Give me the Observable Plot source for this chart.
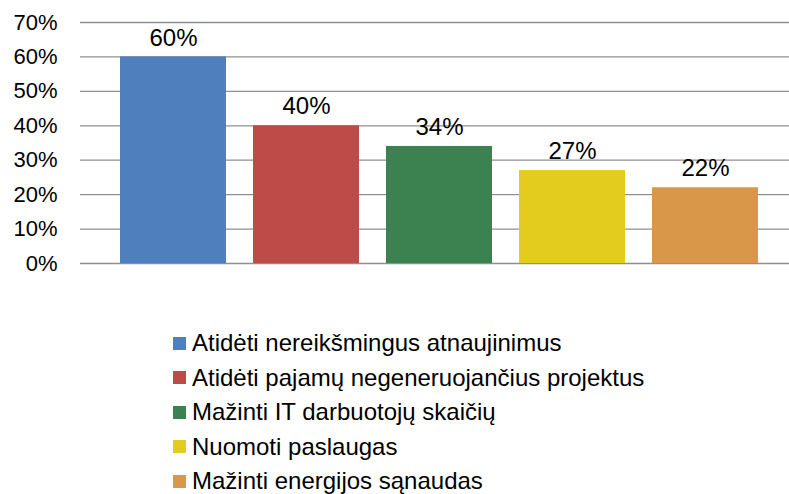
<!DOCTYPE html>
<html>
<head>
<meta charset="utf-8">
<script src="https://cdn.jsdelivr.net/npm/d3@7"></script>
<script src="https://cdn.jsdelivr.net/npm/@observablehq/plot@0.6"></script>
<style>
  body { margin: 0; background: #fff; font-family: "Liberation Sans", Arial, sans-serif; }
  #chart svg { display: block; }
  #legend { margin-top: 46px; margin-left: 173px; }
  .row { height: 34.5px; display: flex; align-items: center; font-size: 24px; color: #000; }
  .sw { width: 13px; height: 13px; margin-right: 6px; flex: none; }
</style>
</head>
<body>
<div id="chart"></div>
<div id="legend"></div>
<script>
const categories = [
  "Atidėti nereikšmingus atnaujinimus",
  "Atidėti pajamų negeneruojančius projektus",
  "Mažinti IT darbuotojų skaičių",
  "Nuomoti paslaugas",
  "Mažinti energijos sąnaudas"
];
const values = [0.60, 0.40, 0.34, 0.27, 0.22];
const colors = ["#4F7FBC", "#BE4B48", "#3C8150", "#E3CC1E", "#D9974A"];
const yTicks = [0, 0.1, 0.2, 0.3, 0.4, 0.5, 0.6, 0.7];

const data = categories.map((c, i) => ({cat: c, value: values[i]}));
const fmt = d3.format(".0%");

const chart = Plot.plot({
  width: 789,
  height: 280,
  marginLeft: 80,
  marginRight: 0,
  marginTop: 22,
  marginBottom: 17,
  style: {fontFamily: "'Liberation Sans', Arial, sans-serif", fontSize: "22px", color: "#000", background: "#fff"},
  x: {domain: categories, range: [80, 799], paddingInner: 0.2, paddingOuter: 0.3, axis: null},
  y: {domain: [0, 0.7], ticks: yTicks, tickFormat: fmt, tickSize: 0, tickPadding: 23, label: null},
  color: {domain: categories, range: colors},
  marks: [
    Plot.ruleY(yTicks, {stroke: "#8f8f8f", strokeWidth: 1.3}),
    Plot.barY(data, {x: "cat", y: "value", fill: "cat"}),
    Plot.text(data, {x: "cat", y: "value", text: d => fmt(d.value), dy: -19, fontSize: 24, fill: "#000"})
  ]
});
document.getElementById("chart").appendChild(chart);

const legend = document.getElementById("legend");
categories.forEach((c, i) => {
  const row = document.createElement("div");
  row.className = "row";
  const sw = document.createElement("span");
  sw.className = "sw";
  sw.style.background = colors[i];
  const t = document.createElement("span");
  t.textContent = c;
  row.appendChild(sw);
  row.appendChild(t);
  legend.appendChild(row);
});
</script>
</body>
</html>
